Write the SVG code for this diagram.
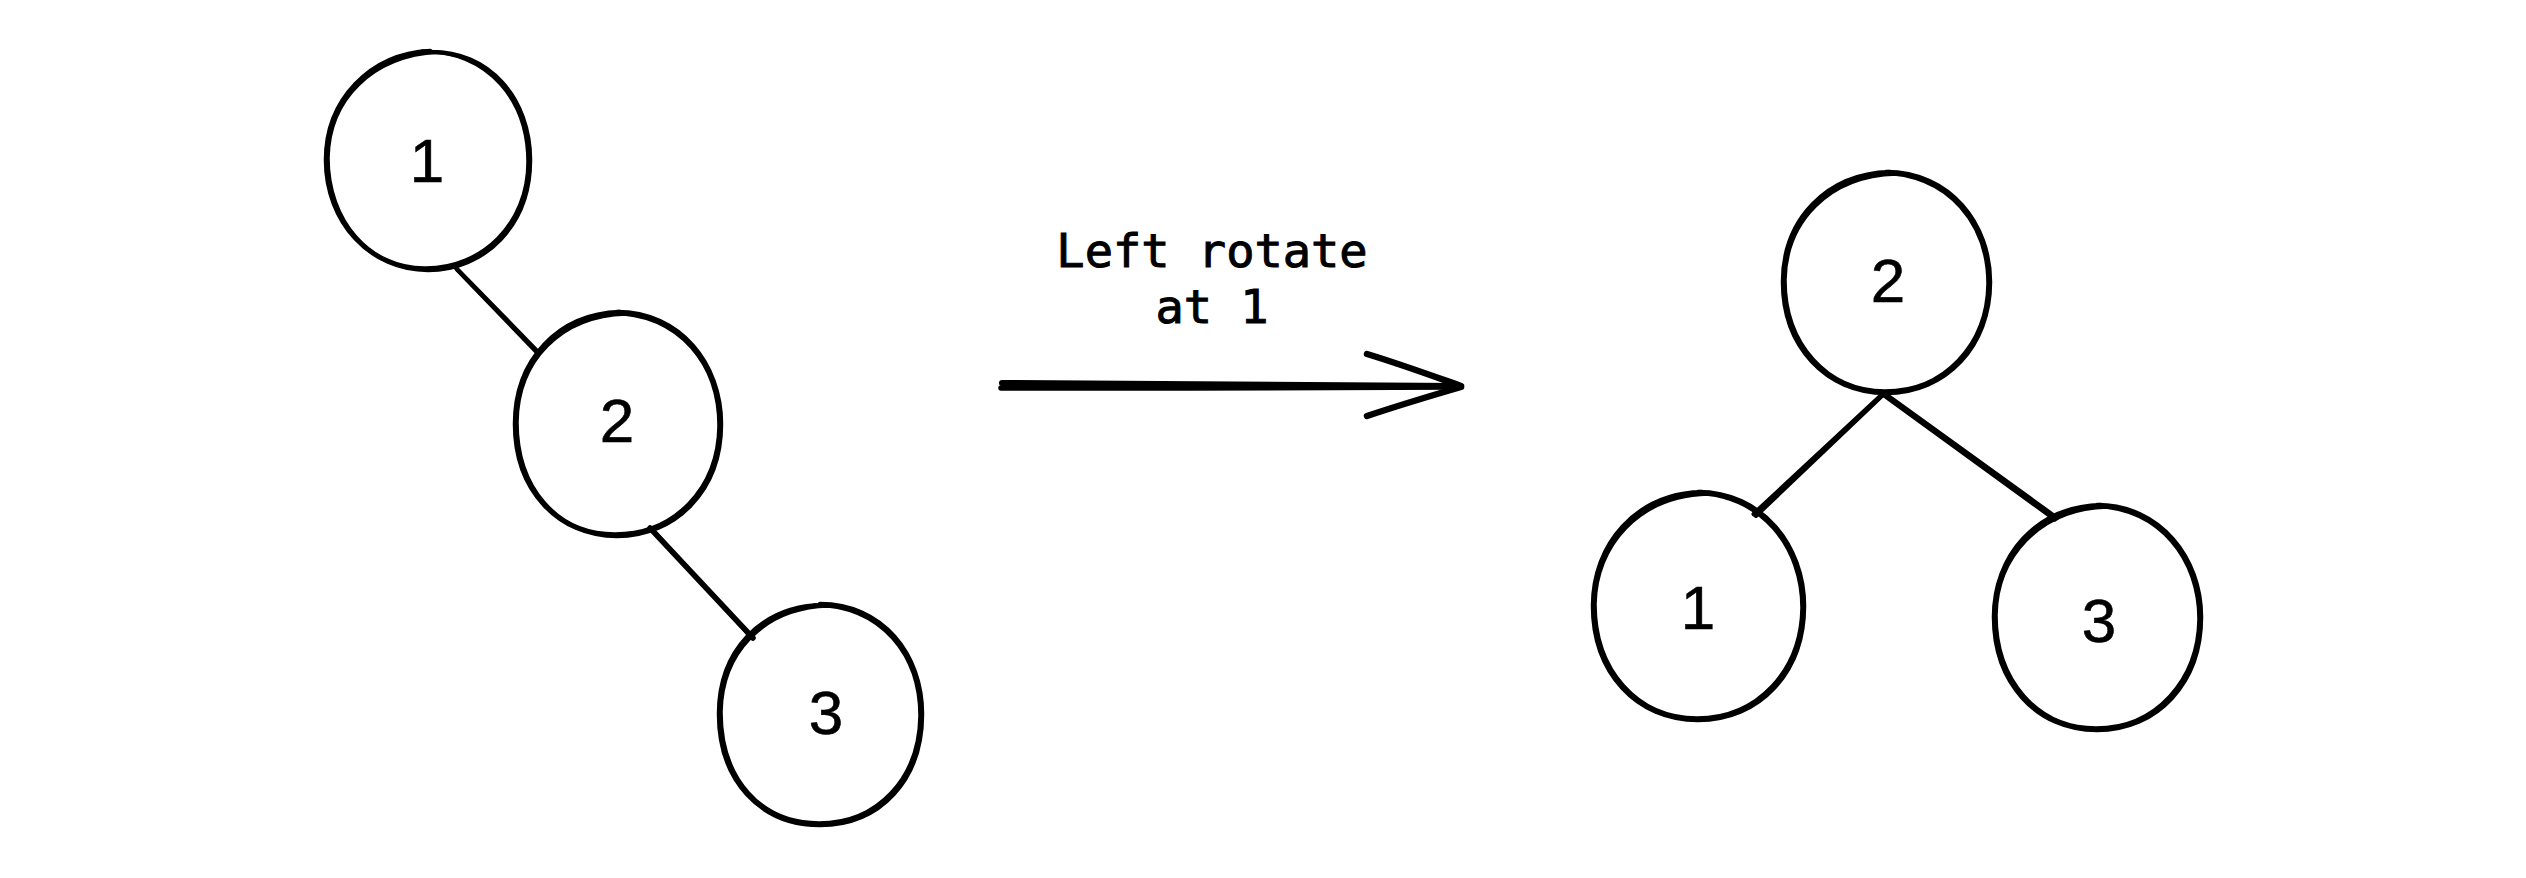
<svg xmlns="http://www.w3.org/2000/svg" width="2526" height="878" viewBox="0 0 2526 878">
<style>
.s{fill:none;stroke:#000;stroke-linecap:round;stroke-linejoin:round}
.o{stroke-width:4.5}
.i{stroke-width:3.5}
.lbl{font-family:"Liberation Sans",Arial,sans-serif;font-size:62px;fill:#000;stroke:#000;stroke-width:0.6;text-anchor:middle;dominant-baseline:central}
.cap{font-family:"DejaVu Sans Mono","Liberation Mono",monospace;font-size:47px;fill:#000;stroke:#000;stroke-width:1;text-anchor:middle}
</style>
<rect width="2526" height="878" fill="#fff"/>
<g id="connectors" class="s">
  <path d="M456 268 L537 351" stroke-width="4.5"/>
  <path d="M457 270 L536 352" stroke-width="3.5"/>
  <path d="M650 528 L753 638" stroke-width="5.5"/>
  <path d="M652 529 L751 637" stroke-width="4"/>
  <path d="M1884 393 L1754 514" stroke-width="5"/>
  <path d="M1883 395 L1756 516" stroke-width="4"/>
  <path d="M1884 393 L2057 518" stroke-width="4.5"/>
  <path d="M1883 395 L2055 520" stroke-width="3.5"/>
  <path d="M1002 383 C1150 384 1320 385 1460 386" stroke-width="6"/>
  <path d="M1001 388 C1150 388 1320 388 1459 387" stroke-width="5.5"/>
  <path d="M1367 354 C1400 364 1430 375 1461 386" stroke-width="6.5"/>
  <path d="M1367 416 C1400 405 1430 396 1461 387" stroke-width="6.5"/>
</g>
<g id="caption">
  <text class="cap" x="1212" y="267">Left rotate</text>
  <text class="cap" x="1212" y="323">at 1</text>
</g>
<g id="left-node-1">
  <path class="s o" d="M428 52 C490 50 530 100 530 160 C530 225 485 270 428 270 C370 270 326 222 326 160 C326 100 370 54 430 51"/>
  <path class="s i" d="M422 51 C491 52 528 102 528 162 C528 224 482 268 426 268 C369 269 328 220 328 158 C329 99 372 56 438 52"/>
  <text class="lbl" x="427" y="160">1</text>
</g>
<g id="left-node-2">
  <path class="s o" d="M617 312 C680 312 721 364 721 424 C721 490 676 536 617 536 C558 536 515 490 515 424 C515 360 558 314 620 312"/>
  <path class="s i" d="M610 313 C682 314 719 366 719 426 C718 489 674 534 615 534 C557 534 517 488 517 422 C518 361 560 316 626 314"/>
  <text class="lbl" x="617" y="420">2</text>
</g>
<g id="left-node-3">
  <path class="s o" d="M820 604 C882 604 922 654 922 714 C922 780 880 825 820 825 C760 825 719 780 719 714 C719 652 760 606 824 605"/>
  <path class="s i" d="M814 605 C883 606 920 656 920 716 C919 778 878 823 819 823 C761 823 721 779 721 712 C722 654 762 608 828 606"/>
  <text class="lbl" x="826" y="712">3</text>
</g>
<g id="right-node-2">
  <path class="s o" d="M1886 172 C1950 172 1990 224 1990 282 C1990 346 1946 393 1886 393 C1826 393 1783 346 1783 282 C1783 220 1826 174 1890 172"/>
  <path class="s i" d="M1880 173 C1951 174 1988 226 1988 284 C1987 345 1944 391 1885 391 C1827 391 1785 344 1785 280 C1786 222 1828 176 1896 174"/>
  <text class="lbl" x="1888" y="280">2</text>
</g>
<g id="right-node-1">
  <path class="s o" d="M1698 492 C1762 492 1804 546 1804 606 C1804 672 1760 720 1698 720 C1636 720 1593 672 1593 606 C1593 544 1636 494 1702 492"/>
  <path class="s i" d="M1692 493 C1763 494 1802 548 1802 608 C1801 670 1758 718 1697 718 C1637 718 1595 670 1595 604 C1596 546 1638 496 1708 494"/>
  <text class="lbl" x="1698" y="607">1</text>
</g>
<g id="right-node-3">
  <path class="s o" d="M2097 505 C2160 505 2201 558 2201 617 C2201 682 2158 730 2097 730 C2036 730 1994 682 1994 617 C1994 556 2036 507 2101 505"/>
  <path class="s i" d="M2091 506 C2161 507 2199 560 2199 619 C2198 680 2156 728 2096 728 C2037 728 1996 680 1996 615 C1997 558 2038 509 2107 507"/>
  <text class="lbl" x="2099" y="620">3</text>
</g>
</svg>
